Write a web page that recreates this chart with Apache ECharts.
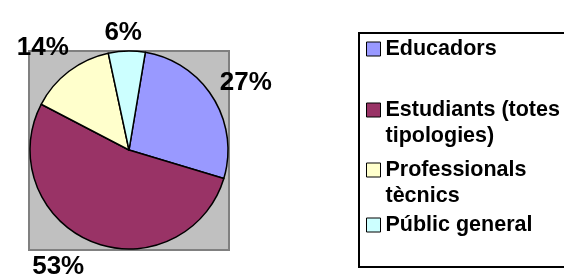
<!DOCTYPE html>
<html>
<head>
<meta charset="utf-8">
<script src="https://cdn.jsdelivr.net/npm/echarts@6/dist/echarts.min.js"></script>
<style>
  html, body { margin: 0; padding: 0; background: #fff; }
  #chart { width: 564px; height: 278px; }
</style>
</head>
<body>
<div id="chart"></div>
<script>
// 数据
var categories = ['Educadors', 'Estudiants (totes\ntipologies)', 'Professionals\ntècnics', 'Públic general'];
var values = [27, 53, 14, 6];
var colors = ['#9999FF', '#993366', '#FFFFCC', '#CCFFFF'];

var chart = echarts.init(document.getElementById('chart'));

var pieCenter = [129, 150];
var pieRadius = 99;
var startAngle = 80.5;
var labelFont = 26;

var pieData = categories.map(function (name, i) {
    return { name: name, value: values[i] };
});

var total = values.reduce(function (a, b) { return a + b; }, 0);

// 标签放在扇区中线方向的饼图外侧，超出画布底部时沿圆周滑动
function placeLabel(params) {
    var i = params.dataIndex;
    var before = 0;
    for (var k = 0; k < i; k++) before += values[k];
    var mid = (startAngle - 360 * (before + values[i] / 2) / total) * Math.PI / 180;
    var dx = Math.cos(mid), dy = -Math.sin(mid);
    var halfW = params.labelRect.width / 2;
    var halfH = labelFont * 0.36;
    var dist = pieRadius + 15 + Math.abs(dx) * halfW + Math.abs(dy) * halfH;
    var x = pieCenter[0] + dx * dist - 3;
    var y = pieCenter[1] + dy * dist + 7;
    var maxY = 278 - halfH - 2;
    if (y > maxY) {
        var oy = maxY - pieCenter[1];
        var ox = Math.sqrt(Math.max(dist * dist - oy * oy, 0));
        x = pieCenter[0] + (dx < 0 ? -ox - 8 : ox);
        y = maxY;
    }
    return { x: x, y: y, align: 'center', verticalAlign: 'middle' };
}

// 图例：每项单独放置，两行的项目让色块对齐第一行
var legendCenters = [49, 110, 170, 225];
var legends = categories.map(function (name, i) {
    var twoLines = name.indexOf('\n') >= 0;
    return {
        data: [name],
        orient: 'vertical',
        left: 366,
        top: legendCenters[i] - (twoLines ? 39 : 13),
        padding: 0,
        itemWidth: 14,
        itemHeight: 14,
        itemGap: 0,
        icon: 'rect',
        selectedMode: false,
        formatter: function (n) {
            return n.indexOf('\n') >= 0 ? '\n' + n : n;
        },
        itemStyle: { borderColor: '#000', borderWidth: 1 },
        textStyle: {
            fontFamily: 'Liberation Sans',
            fontWeight: 'bold',
            fontSize: 21.5,
            color: '#000',
            lineHeight: 26
        }
    };
});

var option = {
    animation: false,
    color: colors,
    legend: legends,
    graphic: [
        {
            type: 'rect',
            shape: { x: 29, y: 51, width: 200, height: 199 },
            style: { fill: '#C0C0C0', stroke: '#808080', lineWidth: 2 },
            z: -10
        },
        {
            type: 'rect',
            shape: { x: 359, y: 33, width: 210, height: 234 },
            style: { fill: '#fff', stroke: '#000', lineWidth: 2 },
            z: -10
        }
    ],
    series: [
        {
            type: 'pie',
            center: pieCenter,
            radius: [0, pieRadius],
            startAngle: startAngle,
            clockwise: true,
            silent: true,
            avoidLabelOverlap: false,
            data: pieData,
            itemStyle: { borderColor: '#000', borderWidth: 1.5 },
            label: {
                show: true,
                position: 'inside',
                formatter: '{c}%',
                fontFamily: 'Liberation Sans',
                fontWeight: 'bold',
                fontSize: labelFont,
                color: '#000'
            },
            labelLine: { show: false },
            labelLayout: placeLabel,
            emphasis: { disabled: true }
        }
    ]
};

chart.setOption(option);
</script>
</body>
</html>
